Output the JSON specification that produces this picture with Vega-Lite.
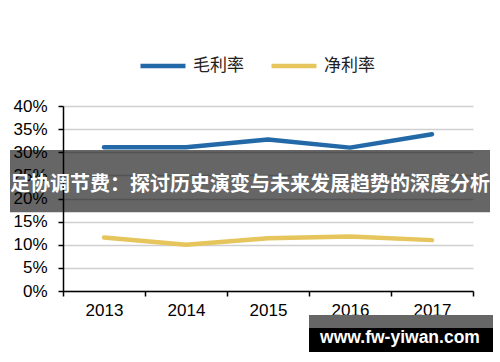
{
  "$schema": "https://vega.github.io/schema/vega-lite/v6.json",
  "width": 410,
  "height": 185,
  "autosize": {"type": "none"},
  "padding": {"left": 63, "top": 106, "right": 27, "bottom": 71},
  "background": "white",
  "config": {
    "view": {"stroke": null},
    "font": "Liberation Sans",
    "axis": {"labelFont": "Liberation Sans", "labelColor": "#000000", "domainColor": "#000000", "tickColor": "#000000", "domainWidth": 1.5, "tickWidth": 1.5, "labelOverlap": false}
  },
  "layer": [
    {
      "data": {"values": [
        {"year": "2013", "series": "毛利率", "value": 0.311},
        {"year": "2014", "series": "毛利率", "value": 0.311},
        {"year": "2015", "series": "毛利率", "value": 0.3275},
        {"year": "2016", "series": "毛利率", "value": 0.310},
        {"year": "2017", "series": "毛利率", "value": 0.339},
        {"year": "2013", "series": "净利率", "value": 0.1156},
        {"year": "2014", "series": "净利率", "value": 0.100},
        {"year": "2015", "series": "净利率", "value": 0.114},
        {"year": "2016", "series": "净利率", "value": 0.118},
        {"year": "2017", "series": "净利率", "value": 0.110}
      ]},
      "mark": {"type": "line", "strokeWidth": 4.5, "strokeCap": "round", "strokeJoin": "round"},
      "encoding": {
        "x": {
          "field": "year", "type": "ordinal",
          "scale": {"paddingInner": 0, "paddingOuter": 0},
          "axis": {"title": null, "labelAngle": 0, "tickBand": "extent", "tickSize": 5, "labelFontSize": 17, "labelPadding": 6, "grid": false, "labelOverlap": false}
        },
        "y": {
          "field": "value", "type": "quantitative",
          "scale": {"domain": [0, 0.4], "nice": false, "zero": true},
          "axis": {"title": null, "values": [0, 0.05, 0.1, 0.15, 0.2, 0.25, 0.3, 0.35, 0.4], "tickCount": 20, "format": ".0%", "tickSize": 5, "labelFontSize": 17, "labelPadding": 11, "labelOverlap": false, "labelBound": false, "labelFlush": false, "grid": true, "gridColor": "#d0d0d0", "gridWidth": 1.5}
        },
        "color": {
          "field": "series", "type": "nominal",
          "scale": {"domain": ["毛利率", "净利率"], "range": ["#2369a8", "#e5c55c"]},
          "legend": {"title": null, "orient": "none", "legendX": 75, "legendY": -65, "direction": "horizontal", "symbolType": "stroke", "symbolSize": 2025, "symbolStrokeWidth": 4.5, "labelFont": "Noto Sans CJK SC", "labelFontSize": 17, "labelColor": "#222222", "labelOffset": 5, "columnPadding": 18}
        }
      }
    },
    {
      "data": {"values": [{}]},
      "mark": {"type": "rect", "color": "#000000", "opacity": 0.6},
      "encoding": {
        "x": {"value": -53}, "x2": {"value": 427},
        "y": {"datum": 0.305}, "y2": {"datum": 0.1702}
      }
    },
    {
      "data": {"values": [{}]},
      "mark": {"type": "text", "color": "#ffffff", "font": "Noto Sans CJK SC", "fontWeight": "bold", "fontSize": 20, "align": "center", "baseline": "middle"},
      "encoding": {
        "x": {"value": 187},
        "y": {"datum": 0.229},
        "text": {"value": "足协调节费：探讨历史演变与未来发展趋势的深度分析"}
      }
    },
    {
      "data": {"values": [{}]},
      "mark": {"type": "rect", "color": "#666666"},
      "encoding": {
        "x": {"value": 246}, "x2": {"value": 430},
        "y": {"datum": -0.0519}, "y2": {"datum": -0.08}
      }
    },
    {
      "data": {"values": [{}]},
      "mark": {"type": "rect", "color": "#000000"},
      "encoding": {
        "x": {"value": 246}, "x2": {"value": 430},
        "y": {"datum": -0.08}, "y2": {"datum": -0.1319}
      }
    },
    {
      "data": {"values": [{}]},
      "mark": {"type": "text", "color": "#ffffff", "font": "Liberation Sans", "fontWeight": "bold", "fontSize": 17.5, "align": "center", "baseline": "middle"},
      "encoding": {
        "x": {"value": 337},
        "y": {"datum": -0.1016},
        "text": {"value": "www.fw-yiwan.com"}
      }
    }
  ]
}
